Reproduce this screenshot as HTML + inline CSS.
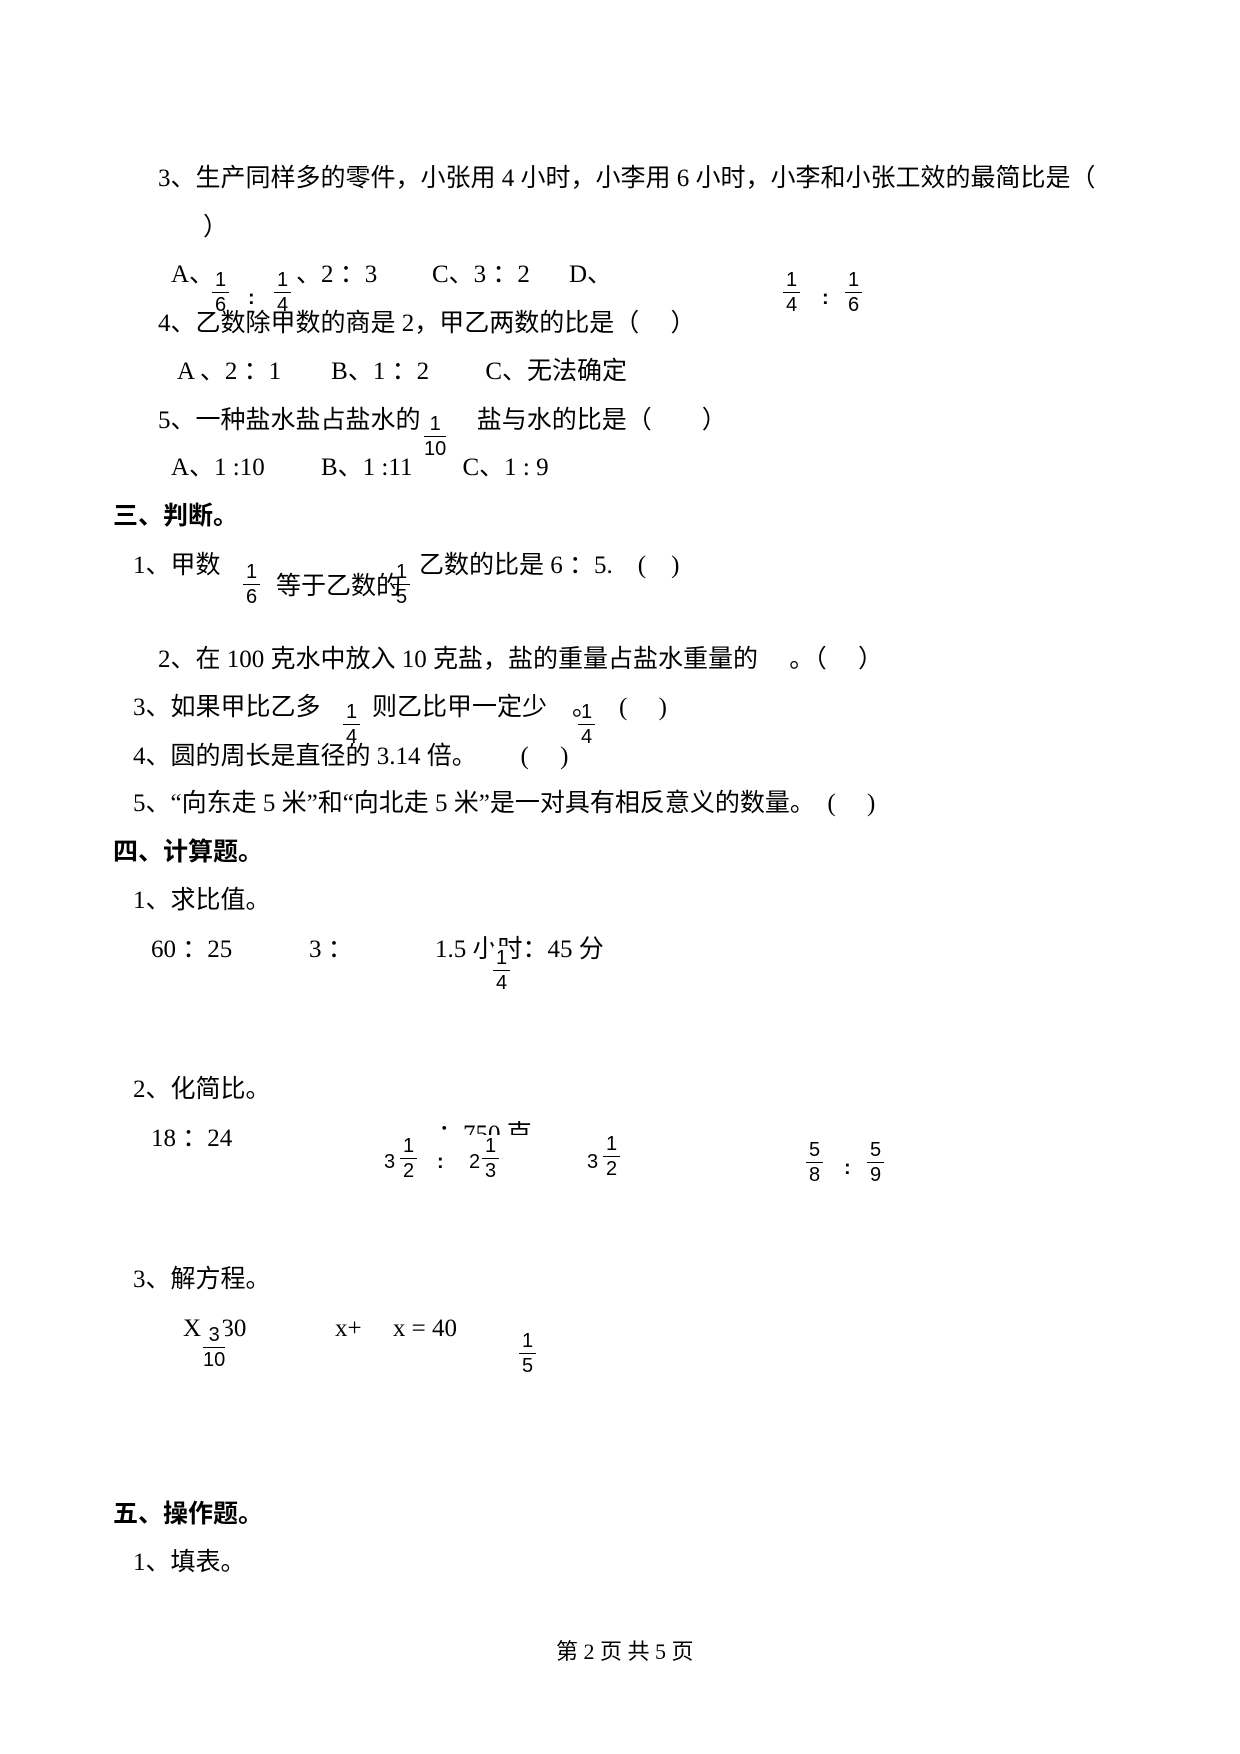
<!DOCTYPE html>
<html><head><meta charset="utf-8"><style>
html,body{margin:0;padding:0;background:#fff;}
body{width:1240px;height:1754px;position:relative;overflow:hidden;font-family:"Liberation Serif","Noto Sans CJK SC",serif;font-size:25px;color:#000;}
.t{position:absolute;white-space:pre;line-height:28px;}
.b{font-weight:bold;}
.f{position:absolute;font-family:"Liberation Sans","DejaVu Sans",sans-serif;font-size:20px;text-align:center;line-height:24px;}
.f .n{border-bottom:1.5px solid #000;padding:0 3px;}
.s{position:absolute;font-family:"Liberation Sans",sans-serif;font-size:20px;line-height:24px;}
</style></head><body>

<div class="t" style="left:158px;top:165px">3、生产同样多的零件，小张用 4 小时，小李用 6 小时，小李和小张工效的最简比是（</div>
<div class="t" style="left:203px;top:214px">）</div>

<div class="t" style="left:171px;top:261px">A、</div>
<div class="f" style="left:212px;top:268px"><div class="n">1</div><div>6</div></div>
<div class="s" style="left:248px;top:286px;font-weight:bold">:</div>
<div class="f" style="left:274px;top:268px"><div class="n">1</div><div>4</div></div>
<div class="t" style="left:296px;top:261px">、2 ：3</div>
<div class="t" style="left:432px;top:261px">C、3 ：2</div>
<div class="t" style="left:569px;top:261px">D、</div>
<div class="f" style="left:783px;top:268px"><div class="n">1</div><div>4</div></div>
<div class="s" style="left:822px;top:286px;font-weight:bold">:</div>
<div class="f" style="left:845px;top:268px"><div class="n">1</div><div>6</div></div>

<div class="t" style="left:158px;top:310px">4、乙数除甲数的商是 2，甲乙两数的比是（　 ）</div>
<div class="t" style="left:177px;top:358px">A 、2 ：1　　B、1 ：2　　 C、无法确定</div>

<div class="t" style="left:158px;top:407px">5、一种盐水盐占盐水的 　　盐与水的比是（　　）</div>
<div class="f" style="left:424px;top:412px"><div class="n">1</div><div>10</div></div>
<div class="t" style="left:171px;top:454px">A、1 :10　　 B、1 :11　　C、1 : 9</div>

<div class="t b" style="left:113px;top:503px">三、判断。</div>

<div class="t" style="left:133px;top:552px">1、甲数</div>
<div class="f" style="left:243px;top:560px"><div class="n">1</div><div>6</div></div>
<div class="t" style="left:276px;top:573px">等于乙数的</div>
<div class="f" style="left:393px;top:560px"><div class="n">1</div><div>5</div></div>
<div class="t" style="left:419px;top:552px">乙数的比是 6 ：5.　(　)</div>

<div class="t" style="left:158px;top:646px">2、在 100 克水中放入 10 克盐，盐的重量占盐水重量的　 。（　 ）</div>

<div class="t" style="left:133px;top:694px">3、如果甲比乙多</div>
<div class="f" style="left:343px;top:700px"><div class="n">1</div><div>4</div></div>
<div class="t" style="left:372px;top:694px">则乙比甲一定少　。</div>
<div class="f" style="left:578px;top:700px"><div class="n">1</div><div>4</div></div>
<div class="t" style="left:619px;top:694px">(　 )</div>

<div class="t" style="left:133px;top:743px">4、圆的周长是直径的 3.14 倍。　　 (　 )</div>
<div class="t" style="left:133px;top:790px">5、“向东走 5 米”和“向北走 5 米”是一对具有相反意义的数量。　(　 )</div>

<div class="t b" style="left:113px;top:839px">四、计算题。</div>
<div class="t" style="left:133px;top:887px">1、求比值。</div>
<div class="t" style="left:151px;top:936px">60 ：25</div>
<div class="t" style="left:309px;top:936px">3 ：</div>
<div class="t" style="left:435px;top:936px">1.5 小时：45 分</div>
<div class="f" style="left:493px;top:946px;background:#fff"><div class="n">1</div><div>4</div></div>

<div class="t" style="left:133px;top:1076px">2、化简比。</div>
<div class="t" style="left:151px;top:1125px">18 ：24</div>
<div class="t" style="left:438px;top:1121px;height:14px;overflow:hidden">：750 克</div>
<div class="s" style="left:384px;top:1150px">3</div>
<div class="f" style="left:400px;top:1134px"><div class="n">1</div><div>2</div></div>
<div class="s" style="left:437px;top:1150px;font-weight:bold">:</div>
<div class="s" style="left:469px;top:1150px">2</div>
<div class="f" style="left:482px;top:1134px"><div class="n">1</div><div>3</div></div>
<div class="s" style="left:587px;top:1150px">3</div>
<div class="f" style="left:603px;top:1132px"><div class="n">1</div><div>2</div></div>
<div class="f" style="left:806px;top:1138px"><div class="n">5</div><div>8</div></div>
<div class="s" style="left:844px;top:1156px;font-weight:bold">:</div>
<div class="f" style="left:867px;top:1138px"><div class="n">5</div><div>9</div></div>

<div class="t" style="left:133px;top:1266px">3、解方程。</div>
<div class="t" style="left:183px;top:1315px">X −30</div>
<div class="f" style="left:203px;top:1323px;background:#fff"><div class="n">3</div><div>10</div></div>
<div class="t" style="left:335px;top:1315px">x+　 x = 40</div>
<div class="f" style="left:519px;top:1329px"><div class="n">1</div><div>5</div></div>

<div class="t b" style="left:113px;top:1501px">五、操作题。</div>
<div class="t" style="left:133px;top:1549px">1、填表。</div>

<div class="t" style="left:556px;top:1638px;font-size:22px">第 2 页 共 5 页</div>
</body></html>
